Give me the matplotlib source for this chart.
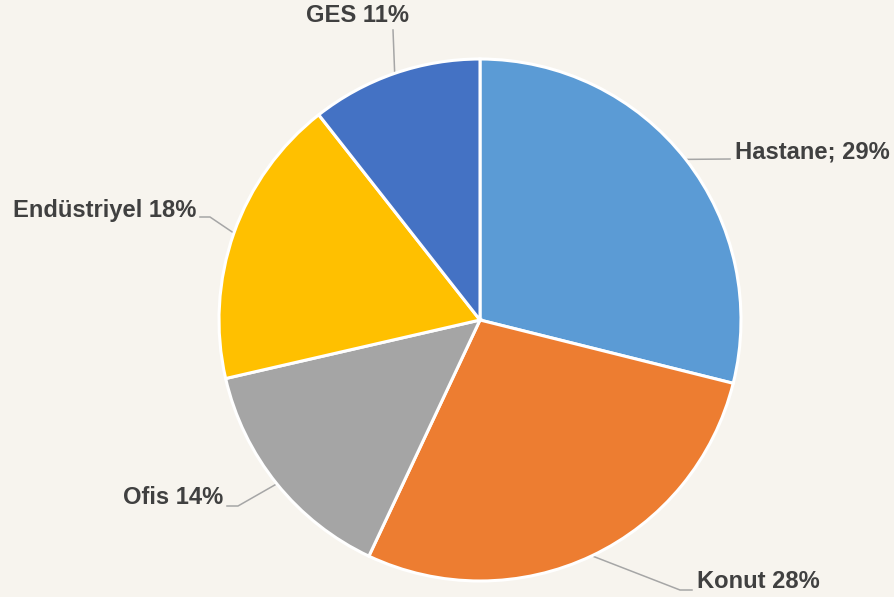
import numpy as np
import matplotlib.pyplot as plt

labels = ['Hastane', 'Konut', 'Ofis', 'Endüstriyel', 'GES']
shares = [28.9, 28.1, 14.4, 18.0, 10.6]
label_texts = ['Hastane; 29%', 'Konut 28%', 'Ofis 14%', 'Endüstriyel 18%', 'GES 11%']
colors = ['#5B9BD5', '#ED7D31', '#A5A5A5', '#FFC000', '#4472C4']

W, H = 894, 597
CX, CY, R = 480, 320, 261


def px(x, y):
    # pixel position (top-left origin) -> data coords of the pie axes
    return (x - CX) / R, (CY - y) / R


# leader line elbow / end and text placement, in pixels
layout = {
    'Hastane': dict(elbow=(730, 159), end=(730, 159), text=(735, 152), ha='left'),
    'Konut': dict(elbow=(680, 590), end=(692, 590), text=(697, 582), ha='left'),
    'Ofis': dict(elbow=(238, 506), end=(227, 506), text=(223, 498), ha='right'),
    'Endüstriyel': dict(elbow=(210, 217), end=(200, 217), text=(196, 210), ha='right'),
    'GES': dict(elbow=(393, 30), end=(393, 30), text=(357, 15), ha='center'),
}

bg = '#F7F4EE'
fig = plt.figure(figsize=(W / 100, H / 100), dpi=100, facecolor=bg)
ax = fig.add_axes([(CX - R) / W, (H - CY - R) / H, 2 * R / W, 2 * R / H])
ax.set_facecolor(bg)

wedges, _ = ax.pie(shares, colors=colors, startangle=90, counterclock=False,
                   radius=1, wedgeprops=dict(edgecolor='white', linewidth=2.2))
ax.set_xlim(-1, 1)
ax.set_ylim(-1, 1)
ax.set_aspect('equal')
ax.axis('off')

for w, name, txt in zip(wedges, labels, label_texts):
    mid = np.deg2rad((w.theta1 + w.theta2) / 2)
    ax0, ay0 = np.cos(mid), np.sin(mid)
    lay = layout[name]
    ex, ey = px(*lay['elbow'])
    fx, fy = px(*lay['end'])
    ax.plot([ax0, ex, fx], [ay0, ey, fy], color='#A6A6A6', lw=1.1,
            clip_on=False, zorder=0.5)
    tx, ty = px(*lay['text'])
    ax.text(tx, ty, txt, ha=lay['ha'], va='center', fontsize=17.1,
            fontweight='bold', color='#404040', family='Liberation Sans')

fig.savefig('out.png', dpi=100, facecolor=bg)
